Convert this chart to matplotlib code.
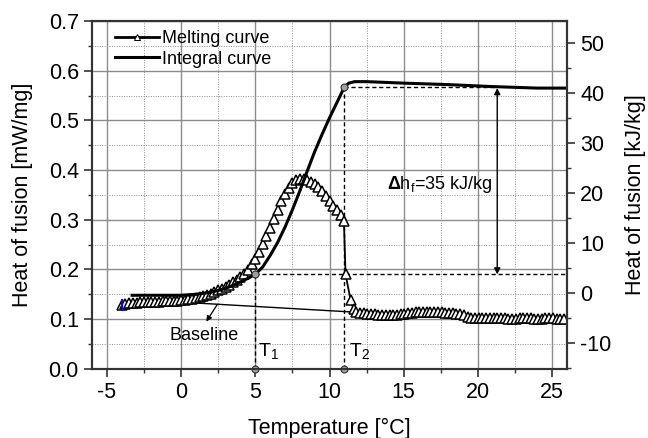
import numpy as np
import matplotlib
matplotlib.use("Agg")
import matplotlib.pyplot as plt
from matplotlib.lines import Line2D
from matplotlib.ticker import MultipleLocator, FormatStrFormatter

plt.rcParams['font.family'] = ['Liberation Sans', 'DejaVu Sans']
plt.rcParams['mathtext.fontset'] = 'custom'
plt.rcParams['mathtext.rm'] = 'Liberation Sans'
plt.rcParams['mathtext.bf'] = 'Liberation Sans:bold'
plt.rcParams['axes.unicode_minus'] = False

# melting curve (DSC signal), mW/mg
melt_x = np.r_[np.arange(-4.0, 11.0, 0.25),
               10.97, 11.08, 11.42, 11.62,
               np.arange(11.8, 26.0, 0.25)]
melt_y = [0.128, 0.130, 0.132, 0.133, 0.133, 0.134, 0.134, 0.134, 0.135, 0.135,
          0.135, 0.136, 0.136, 0.136, 0.137, 0.137, 0.138, 0.139, 0.140, 0.141,
          0.142, 0.144, 0.146, 0.148, 0.151, 0.154, 0.158, 0.161, 0.165, 0.169,
          0.174, 0.179, 0.185, 0.191, 0.199, 0.210, 0.222, 0.236, 0.252, 0.268,
          0.284, 0.302, 0.320, 0.337, 0.351, 0.364, 0.374, 0.380, 0.383, 0.383,
          0.380, 0.376, 0.371, 0.365, 0.357, 0.348, 0.338, 0.328, 0.319, 0.310,
          0.298, 0.190, 0.139, 0.120,
          0.115, 0.113, 0.112, 0.111, 0.111, 0.110, 0.109, 0.108, 0.108, 0.108,
          0.108, 0.109, 0.110, 0.111, 0.112, 0.113, 0.114, 0.114, 0.115, 0.115,
          0.115, 0.115, 0.114, 0.114, 0.113, 0.113, 0.112, 0.111, 0.110, 0.108,
          0.105, 0.103, 0.102, 0.102, 0.102, 0.102, 0.102, 0.103, 0.103, 0.102,
          0.102, 0.101, 0.101, 0.101, 0.102, 0.102, 0.102, 0.102, 0.101, 0.101,
          0.101, 0.102, 0.102, 0.102, 0.101, 0.101, 0.101]

# integral curve (plotted on left scale)
integ_x = [-3.3, -2, -1, 0, 1, 2, 3, 3.5, 4, 4.5, 5, 5.5, 6, 6.5, 7, 7.5, 8, 8.5,
           9, 9.5, 10, 10.5, 11, 11.3, 11.7, 12.5, 15, 18, 21, 24, 26]
integ_y = [0.148, 0.148, 0.148, 0.148, 0.150, 0.154, 0.162, 0.168, 0.175, 0.182,
           0.190, 0.205, 0.228, 0.254, 0.285, 0.320, 0.358, 0.398, 0.437, 0.472,
           0.505, 0.536, 0.567, 0.575, 0.578, 0.578, 0.575, 0.572, 0.568, 0.565,
           0.565]

baseline_x = [-0.5, 11.7]
baseline_y = [0.135, 0.114]

T1, T2 = 5.0, 11.0
h1, h2 = 0.19, 0.567
arrow_x = 21.3

fig = plt.figure(figsize=(6.48, 4.38), dpi=100)
ax = fig.add_axes([0.142, 0.158, 0.733, 0.794])

ax.plot(baseline_x, baseline_y, color='k', lw=1.0, zorder=3)
ax.plot(melt_x, melt_y, color='k', lw=1.3, marker='^', ms=6.5,
        mfc='white', mec='k', mew=1.1, zorder=4)
ax.plot(integ_x, integ_y, color='k', lw=2.2, zorder=5)
ax.plot([melt_x[0]], [melt_y[0]], marker='|', ms=9, mew=1.5, color='blue', zorder=6)

# construction lines
dash = dict(color='k', lw=1.0, ls=(0, (3, 2)), zorder=3)
ax.plot([T1, T1], [0, h1], **dash)
ax.plot([T1, 26], [h1, h1], **dash)
ax.plot([T2, T2], [0, h2], **dash)
ax.plot([T2, arrow_x], [h2, h2], **dash)
ax.plot([T1, T1, T2, T2], [0, h1, 0, h2], ls='none', marker='o', ms=5,
        mfc='#a0a0a0', mec='#333333', mew=0.8, zorder=7, clip_on=False)

ax.annotate('', xy=(arrow_x, h2 - 0.002), xytext=(arrow_x, h1),
            arrowprops=dict(arrowstyle='<|-|>', color='k', lw=1.0,
                            mutation_scale=9, shrinkA=0, shrinkB=0))
ax.text(13.85, 0.37, r'$\mathbf{\Delta}$h$_\mathrm{f}$=35 kJ/kg', fontsize=13,
        va='center', ha='left')

ax.annotate('', xy=(1.7, 0.095), xytext=(2.45, 0.13),
            arrowprops=dict(arrowstyle='-|>', color='k', lw=0.9,
                            mutation_scale=8, shrinkA=0, shrinkB=0))
ax.text(1.55, 0.068, 'Baseline', fontsize=13, ha='center', va='center')
ax.text(5.2, 0.035, r'T$_1$', fontsize=14, ha='left', va='center')
ax.text(11.3, 0.035, r'T$_2$', fontsize=14, ha='left', va='center')

ax.set_xlim(-6, 26)
ax.set_ylim(0, 0.7)
ax.xaxis.set_major_locator(MultipleLocator(5))
ax.xaxis.set_minor_locator(MultipleLocator(2.5))
ax.yaxis.set_major_locator(MultipleLocator(0.1))
ax.yaxis.set_minor_locator(MultipleLocator(0.05))
ax.yaxis.set_major_formatter(FormatStrFormatter('%.1f'))
ax.grid(which='major', color='#8c8c8c', lw=1.0, ls='-')
ax.grid(which='minor', color='#8c8c8c', lw=0.7, ls=(0, (1, 1.5)))
ax.set_axisbelow(True)
ax.tick_params(which='major', direction='out', length=6, width=1.2, labelsize=15.5,
               color='#333333')
ax.tick_params(which='minor', direction='out', length=3, width=1.0, color='#333333')
ax.set_xlabel('Temperature [°C]', fontsize=15.5, labelpad=11)
ax.set_ylabel('Heat of fusion [mW/mg]', fontsize=15.5, labelpad=11)

ax2 = ax.twinx()
ax2.set_ylim(-15.2, 54.4)
ax2.yaxis.set_major_locator(MultipleLocator(10))
ax2.yaxis.set_minor_locator(MultipleLocator(5))
ax2.tick_params(which='major', direction='out', length=6, width=1.2, labelsize=15.5,
                color='#333333')
ax2.tick_params(which='minor', direction='out', length=3, width=1.0, color='#333333')
ax2.set_ylabel('Heat of fusion [kJ/kg]', fontsize=15.5, labelpad=10)

for a in (ax, ax2):
    for s in a.spines.values():
        s.set_color('#333333')
        s.set_linewidth(1.5)

handles = [Line2D([], [], color='k', lw=2.0, marker='^', ms=4.5, mfc='white',
                  mec='k', mew=0.7),
           Line2D([], [], color='k', lw=2.2)]
ax.legend(handles, ['Melting curve', 'Integral curve'], loc='upper left',
          bbox_to_anchor=(0.03, 1.0), frameon=False, fontsize=13,
          handlelength=2.4, handletextpad=0.2, labelspacing=0.2, borderaxespad=0.1)

fig.savefig('out.png', dpi=100)
